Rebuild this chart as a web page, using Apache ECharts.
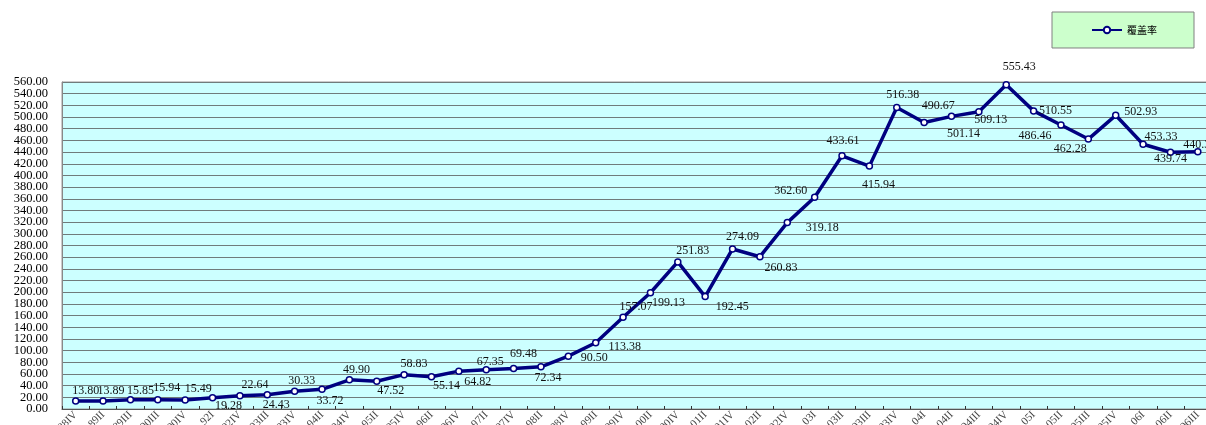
<!DOCTYPE html>
<html>
<head>
<meta charset="utf-8">
<script src="https://cdn.jsdelivr.net/npm/echarts@6/dist/echarts.min.js"></script>
<style>
html,body{margin:0;padding:0;background:#fff;}
#chart{width:1206px;height:425px;}
</style>
</head>
<body>
<div id="chart"></div>
<script>
const seriesName = '覆盖率';
const categories = [
  '88IV','89II','89III','90III','90IV','92I','92IV','93III','93IV','94II',
  '94IV','95II','95IV','96II','96IV','97II','97IV','98II','98IV','99II',
  '99IV','00II','00IV','01II','01IV','02II','02IV','03I','03II','03III',
  '03IV','04I','04II','04III','04IV','05I','05II','05III','05IV','06I',
  '06II','06III'
];
const values = [
  13.80, 13.89, 15.85, 15.94, 15.49, 19.28, 22.64, 24.43, 30.33, 33.72,
  49.90, 47.52, 58.83, 55.14, 64.82, 67.35, 69.48, 72.34, 90.50, 113.38,
  157.07, 199.13, 251.83, 192.45, 274.09, 260.83, 319.18, 362.60, 433.61, 415.94,
  516.38, 490.67, 501.14, 509.13, 555.43, 510.55, 486.46, 462.28, 502.93, 453.33,
  439.74, 440.35
];
const yTicks = { min: 0, max: 560, interval: 20 };

// label placement (style only): offset of label centre from the point
const labelOffsets = [
  [10,-10],[8,-10],[10,-9],[9,-12],[13,-11],[16,8],[15,-11],[9,10],[7,-10],[8,12],
  [7,-10],[14,10],[10,-11],[15,9],[19,11],[4,-8],[10,-15],[7,11],[26,2],[29,4],
  [13,-10],[18,10],[15,-11],[27,10],[10,-12],[21,11],[35,5],[-24,-6],[1,-15],[9,19],
  [6,-13],[14,-17],[12,17],[12,8],[13,-18],[22,0],[-26,11],[-18,10],[25,-3],[18,-7],
  [0,7],[2,-7]
];

const yLabelStyle = {
  fontSize: 12.5,
  margin: 14,
  color: '#000',
  fontFamily: 'Liberation Serif'
};

const chart = echarts.init(document.getElementById('chart'));
chart.setOption({
  animation: false,
  backgroundColor: '#ffffff',
  legend: {
    data: [seriesName],
    left: 1052,
    top: 12,
    backgroundColor: '#CCFFCC',
    borderColor: '#808080',
    borderWidth: 1,
    padding: [13, 37, 13, 39],
    itemWidth: 30,
    itemHeight: 8,
    textStyle: { fontSize: 10, fontFamily: 'Noto Sans CJK SC', color: '#000' }
  },
  grid: {
    left: 62,
    top: 82,
    right: -5.5,
    bottom: 16,
    outerBoundsMode: 'none',
    containLabel: false,
    show: true,
    backgroundColor: '#CCFFFF',
    borderColor: '#999999',
    borderWidth: 1
  },
  xAxis: {
    type: 'category',
    data: categories,
    boundaryGap: true,
    axisLine: { lineStyle: { color: '#555', width: 1 } },
    axisTick: { show: true, inside: true, length: 3, lineStyle: { color: '#333' } },
    axisLabel: {
      interval: 0,
      rotate: 45,
      fontSize: 11,
      margin: 4,
      color: '#444',
      fontFamily: 'Liberation Serif'
    },
    splitLine: { show: false }
  },
  yAxis: [{
    type: 'value',
    min: yTicks.min,
    max: yTicks.max,
    interval: yTicks.interval,
    axisLine: { show: true, lineStyle: { color: '#888' } },
    axisTick: { show: false },
    axisLabel: Object.assign({
      showMinLabel: false,
      showMaxLabel: false,
      formatter: (v) => v.toFixed(2)
    }, yLabelStyle),
    splitLine: { show: true, lineStyle: { color: '#707b7b', width: 1.2 } }
  }, {
    type: 'value',
    position: 'left',
    min: yTicks.min,
    max: yTicks.max,
    interval: yTicks.interval,
    axisLine: { show: false },
    axisTick: { show: false },
    splitLine: { show: false },
    axisLabel: Object.assign({
      showMinLabel: true,
      showMaxLabel: true,
      formatter: (v) => (v === yTicks.min || v === yTicks.max) ? v.toFixed(2) : ''
    }, yLabelStyle)
  }],
  series: [{
    name: seriesName,
    type: 'line',
    data: values,
    yAxisIndex: 0,
    symbol: 'circle',
    symbolSize: 6,
    itemStyle: { color: '#ffffff', borderColor: '#000080', borderWidth: 1.5 },
    lineStyle: { color: '#000080', width: 3.5 },
    label: {
      show: true,
      position: 'inside',
      align: 'center',
      verticalAlign: 'middle',
      color: '#111',
      fontSize: 12,
      fontFamily: 'Liberation Serif',
      formatter: (p) => p.value.toFixed(2)
    },
    labelLayout: (params) => ({
      dx: labelOffsets[params.dataIndex][0],
      dy: labelOffsets[params.dataIndex][1],
      hideOverlap: false
    }),
    emphasis: { disabled: true },
    z: 3
  }]
});
</script>
</body>
</html>
